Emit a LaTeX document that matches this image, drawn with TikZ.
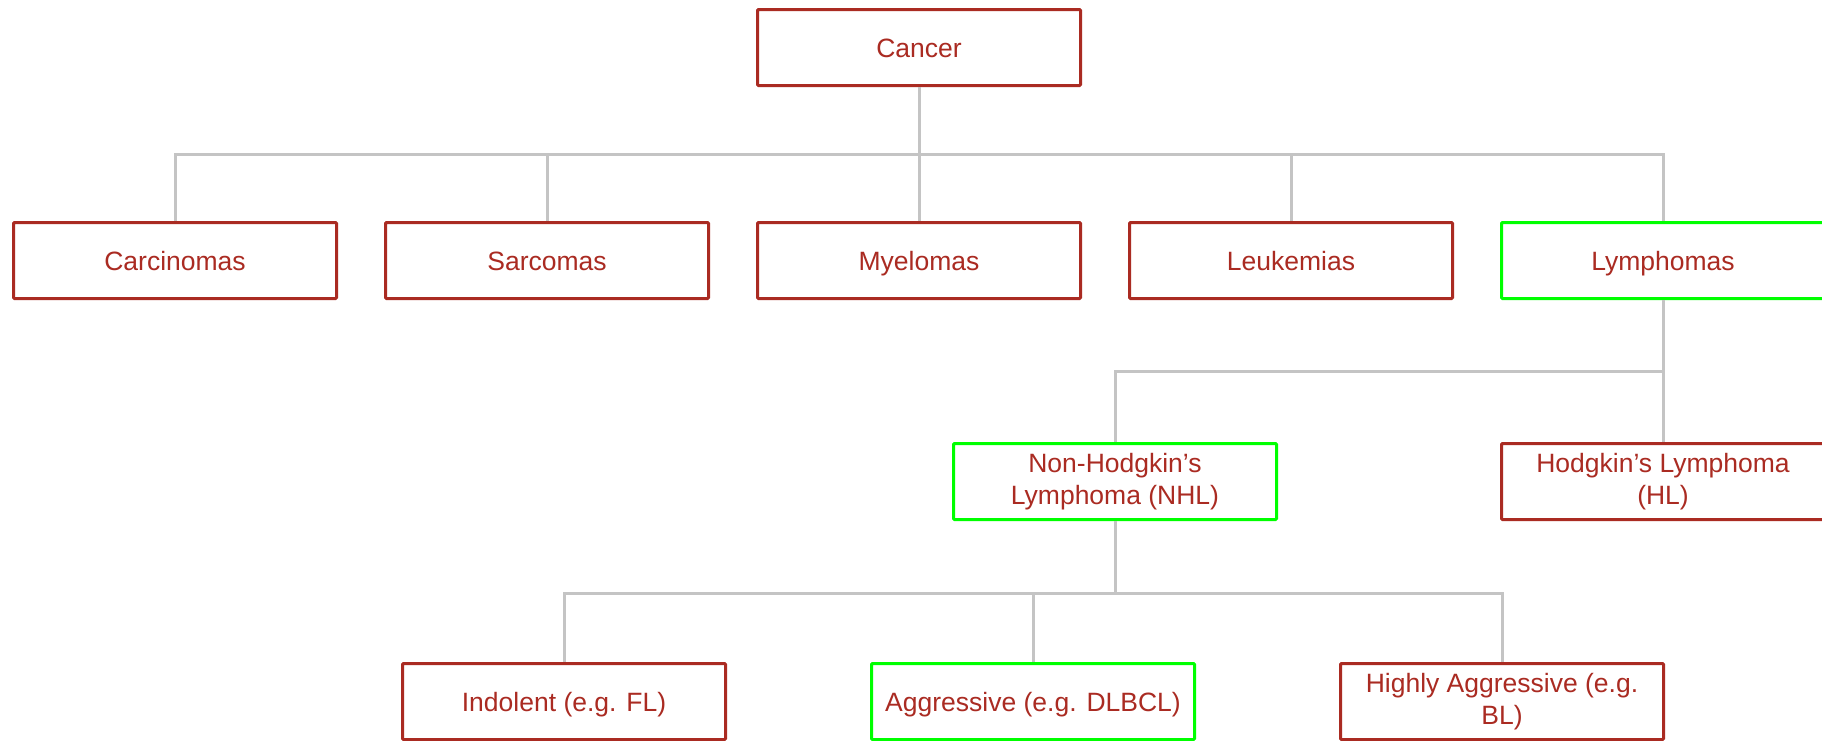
\documentclass[tikz,border=0pt]{standalone}
\usepackage{fontspec}
\setmainfont{Liberation Sans}
\usetikzlibrary{positioning, calc}
\definecolor{boxred}{HTML}{AA2B22}
\definecolor{boxgreen}{HTML}{00FF00}
\definecolor{linkgray}{HTML}{C4C4C4}
\tikzset{
    box/.style={rectangle, draw=boxred, line width=3pt, fill=white, text=boxred, rounded corners=1pt, minimum width=323pt, minimum height=76pt, inner sep=2pt, outer sep=0pt, text height=19pt, text depth=0pt, align=center, font=\fontsize{26.5}{32}\selectfont},
    greenbox/.style={box, draw=boxgreen},
    twoline/.style={text height=, text depth=},
    link/.style={draw=linkgray, line width=3pt, shorten <=1.5pt, shorten >=1.5pt}
}

\begin{document}
\begin{tikzpicture}[node distance=137pt and 49pt]
        \useasboundingbox (0,0) rectangle (1822pt,-740pt);

        % top level
        \node[box] (cancer) at (919pt,-47.5pt) {Cancer};

        % main types
        \node[box, below=137pt of cancer] (myel) {Myelomas};
        \node[box, left=of myel] (sarc) {Sarcomas};
        \node[box, left=of sarc] (carc) {Carcinomas};
        \node[box, right=of myel] (leuk) {Leukemias};
        \node[greenbox, right=of leuk] (lymph) {Lymphomas};

        \foreach \k in {carc, sarc, myel, leuk, lymph}
            \draw[link] (cancer.south) -- ++(0,-68.5pt) -| (\k.north);

        % lymphomas
        \node[box, twoline, below=145pt of lymph] (hl) {Hodgkin’s Lymphoma\\(HL)};
        \node[greenbox, twoline, left=225pt of hl] (nhl) {Non-Hodgkin’s\\Lymphoma (NHL)};

        \foreach \k in {nhl, hl}
            \draw[link] (lymph.south) -- ++(0,-72.5pt) -| (\k.north);

        % NHL subtypes
        \node[greenbox, below=144pt of nhl, xshift=-82pt] (aggr) {Aggressive (e.g. DLBCL)};
        \node[box, left=146pt of aggr] (indol) {Indolent (e.g. FL)};
        \node[box, twoline, right=146pt of aggr] (high) {Highly Aggressive (e.g.\\BL)};

        \foreach \k in {indol, aggr, high}
            \draw[link] (nhl.south) -- ++(0,-73.5pt) -| (\k.north);
    \end{tikzpicture}
\end{document}
